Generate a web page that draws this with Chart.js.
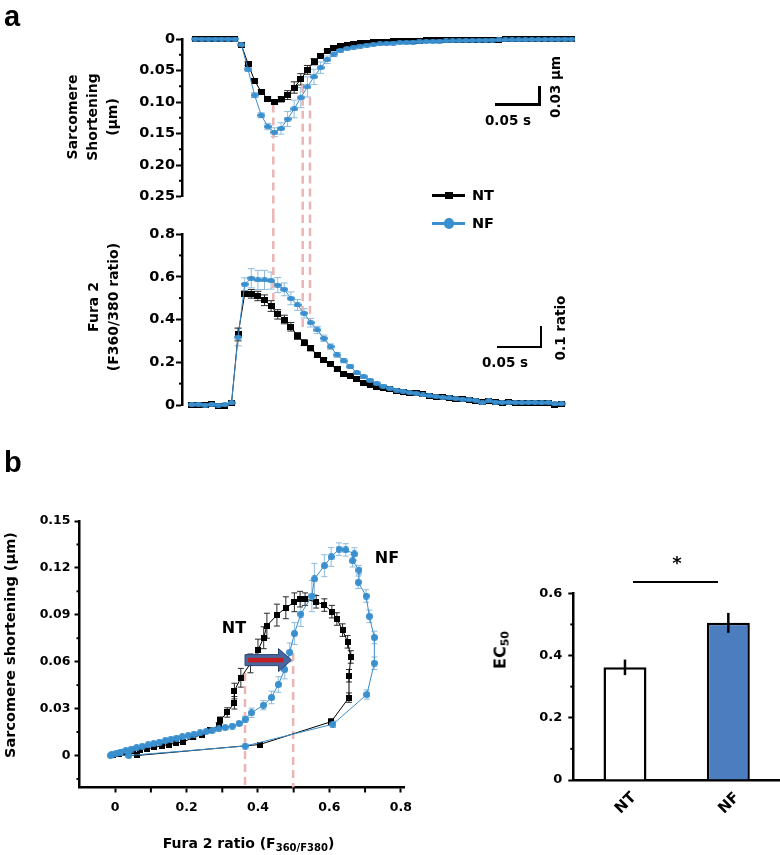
<!DOCTYPE html>
<html><head><meta charset="utf-8">
<script src="https://cdn.jsdelivr.net/npm/chart.js@4.4.1/dist/chart.umd.min.js"></script>
<style>
html,body{margin:0;padding:0;background:#fff}
body{width:780px;height:855px;position:relative;overflow:hidden;color:#000}
canvas{position:absolute}
.c{position:absolute;transform:translate(-50%,-50%);white-space:nowrap;font-family:'DejaVu Sans',sans-serif;font-weight:bold;line-height:1.2;text-align:center}
.r{position:absolute;transform:translate(-50%,-50%) rotate(-90deg);white-space:nowrap;font-family:'DejaVu Sans',sans-serif;font-weight:bold;text-align:center}
.l{position:absolute;white-space:nowrap;font-family:'Liberation Sans',Arial,sans-serif;font-weight:bold;line-height:1}
.bar{position:absolute;background:#000}
sub{font-size:10px;vertical-align:-3px;line-height:0}
</style></head><body>
<canvas id="cShort" width="600" height="215" style="left:0;top:0"></canvas>
<canvas id="cFura" width="600" height="215" style="left:0;top:215px"></canvas>
<canvas id="cLoop" width="420" height="345" style="left:0;top:490px"></canvas>
<canvas id="cBar" width="350" height="320" style="left:430px;top:520px"></canvas>

<div class="l" style="left:4px;top:2px;font-size:29px">a</div>
<div class="l" style="left:4px;top:448px;font-size:29px">b</div>

<div class="r" style="left:92px;top:117px;font-size:14px;line-height:20px">Sarcomere<br>Shortening<br>(µm)</div>
<div class="r" style="left:103px;top:307px;font-size:14px;line-height:20px">Fura 2<br>(F360/380 ratio)</div>

<!-- scale bars panel a -->
<div class="bar" style="left:495px;top:103px;width:45px;height:2.5px"></div>
<div class="bar" style="left:538px;top:86px;width:2.5px;height:19.5px"></div>
<div class="c" style="left:508px;top:120px;font-size:13.5px">0.05 s</div>
<div class="r" style="left:555px;top:87px;font-size:13.5px">0.03 µm</div>
<div class="bar" style="left:496.5px;top:345.5px;width:45px;height:2.5px"></div>
<div class="bar" style="left:539.5px;top:326px;width:2.5px;height:22px"></div>
<div class="c" style="left:505px;top:361.5px;font-size:13.5px">0.05 s</div>
<div class="r" style="left:560px;top:328px;font-size:13.5px">0.1 ratio</div>

<!-- legend -->
<div class="bar" style="left:432px;top:194px;width:33px;height:2.5px"></div>
<div class="bar" style="left:445px;top:191.5px;width:8px;height:7.5px"></div>
<div class="c" style="left:483px;top:195.5px;font-size:14.5px">NT</div>
<div class="bar" style="left:432px;top:222px;width:33px;height:2.5px;background:#3a8fcf"></div>
<div class="bar" style="left:443.5px;top:218px;width:10.5px;height:10.5px;border-radius:50%;background:#3a8fcf"></div>
<div class="c" style="left:483px;top:223.5px;font-size:14.5px">NF</div>

<!-- panel b texts -->
<div class="r" style="left:10px;top:645px;font-size:14.5px">Sarcomere shortening (µm)</div>
<div class="c" style="left:248.5px;top:843px;font-size:14px">Fura 2 ratio (F<sub>360/F380</sub>)</div>
<div class="c" style="left:234px;top:628px;font-size:16px">NT</div>
<div class="c" style="left:387px;top:557.5px;font-size:16px">NF</div>

<div class="r" style="left:500px;top:650px;font-size:16px">EC<sub style="font-size:11px">50</sub></div>
<div class="bar" style="left:633px;top:580.5px;width:85px;height:2px"></div>
<div class="c" style="left:677px;top:563px;font-size:18px">*</div>

<script>
// ================= DATA =================
// Panel a (top): sarcomere shortening (µm) vs sample index
const shortNT = [0,0,0,0,0,0,0,0.0095,0.039,0.066,0.084,0.095,0.0995,0.096,0.089,0.077,0.064,0.049,0.036,0.027,0.019,0.014,0.011,0.0092,0.0078,0.0068,0.006,0.0052,0.0047,0.0041,0.0037,0.0033,0.003,0.0027,0.0025,0.0022,0.002,0.0019,0.0017,0.0015,0.0014,0.0013,0.0011,0.001,0.0009,0.0008,0.0008,0.0007,0.0006,0.0005,0.0005,0.0004,0.0003,0.0003,0.0002,0.0001,0.0001,0];
const shortNF = [0,0,0,0,0,0,0,0.0095,0.048,0.089,0.121,0.139,0.148,0.142,0.127,0.111,0.093,0.076,0.06,0.0455,0.033,0.024,0.018,0.015,0.013,0.0113,0.0098,0.0088,0.0079,0.0071,0.0064,0.0058,0.0053,0.0048,0.0044,0.004,0.0037,0.0034,0.0031,0.0029,0.0026,0.0024,0.0022,0.002,0.0018,0.0016,0.0015,0.0013,0.0012,0.0011,0.001,0.0009,0.0007,0.0006,0.0005,0.0003,0.0002,0.0001];
const shortErrNT = [0,0,0,0,0,0,0,0,0.003,0.003,0.003,0.003,0.003,0.004,0.007,0.009,0.009,0.007,0.005,0.003,0.002,0.0015];
const shortErrNF = [0,0,0,0,0,0,0,0,0.003,0.004,0.004,0.005,0.007,0.009,0.012,0.014,0.016,0.016,0.012,0.009,0.006,0.004,0.003,0.002];
// Panel a (bottom): Fura 2 ratio vs sample index
const furaNT = [0,0.002,-0.002,0.003,-0.004,-0.006,0.008,0.33,0.52,0.52,0.51,0.49,0.463,0.424,0.40,0.366,0.323,0.292,0.265,0.234,0.21,0.19,0.167,0.145,0.136,0.12,0.104,0.094,0.086,0.078,0.073,0.067,0.062,0.058,0.055,0.05,0.044,0.039,0.036,0.031,0.028,0.027,0.023,0.019,0.016,0.019,0.012,0.011,0.012,0.011,0.009,0.009,0.011,0.009,0.009,-0.002,0.006];
const furaNF = [0.002,0.004,0,0.003,0,0.001,0.01,0.317,0.565,0.593,0.585,0.585,0.582,0.561,0.541,0.499,0.468,0.429,0.385,0.351,0.312,0.273,0.234,0.207,0.18,0.15,0.133,0.115,0.1,0.088,0.078,0.07,0.065,0.058,0.055,0.047,0.044,0.04,0.036,0.033,0.03,0.027,0.025,0.022,0.01,0.02,0.014,0.012,0.013,0.012,0.011,0.012,0.013,0.01,0.012,0.005,0.006];
const furaErrNT = [0,0,0,0,0,0,0,0.03,0.012,0.02,0.022,0.025,0.025,0.022,0.02,0.02,0.016,0.014,0.012,0.01,0.009,0.008,0.007,0.006,0.005,0.005,0.005,0.005,0.005,0.005,0.005];
const furaErrNF = [0,0,0,0,0,0,0,0.04,0.03,0.045,0.045,0.045,0.04,0.035,0.03,0.03,0.025,0.022,0.02,0.017,0.015,0.013,0.012,0.01,0.009,0.007,0.007,0.007,0.007,0.007,0.007];
// Panel b (left): shortening vs Fura ratio loops
const loopFuraNT  = [-0.005,0.062,0.405,0.605,0.655,0.655,0.66,0.651,0.637,0.621,0.607,0.586,0.563,0.532,0.518,0.502,0.478,0.453,0.425,0.416,0.4,0.379,0.352,0.334,0.334,0.314,0.294,0.29,0.266,0.243,0.219,0.191,0.17,0.15,0.13,0.11,0.09,0.07,0.05,0.03,0.012,-0.008];
const loopShortNT = [0,0,0.007,0.0216,0.037,0.051,0.063,0.0727,0.0802,0.0873,0.092,0.0962,0.0983,0.1,0.1,0.098,0.0945,0.0898,0.083,0.0753,0.0674,0.0589,0.0497,0.0412,0.0337,0.0275,0.0226,0.019,0.0162,0.0134,0.0115,0.0087,0.0079,0.007,0.0062,0.0051,0.0043,0.0034,0.0026,0.0017,0.0008,0.0001];
const loopErrNT   = [0,0,0,0.002,0.003,0.004,0.004,0.004,0.004,0.004,0.004,0.004,0.004,0.004,0.005,0.006,0.007,0.007,0.008,0.007,0.007,0.006,0.006,0.005,0.004,0.003,0.002,0.002,0.001,0.001,0.001];
const loopFuraNF  = [-0.013,0.038,0.364,0.61,0.705,0.726,0.726,0.712,0.703,0.681,0.683,0.665,0.67,0.646,0.627,0.605,0.586,0.558,0.551,0.52,0.502,0.489,0.475,0.457,0.438,0.415,0.382,0.364,0.347,0.328,0.308,0.29,0.272,0.255,0.238,0.221,0.205,0.188,0.172,0.156,0.14,0.124,0.108,0.092,0.076,0.06,0.045,0.03,0.015,0.002,-0.01];
const loopShortNF = [0,0,0.006,0.02,0.039,0.059,0.0755,0.089,0.102,0.1108,0.1186,0.1246,0.1289,0.1315,0.132,0.127,0.1214,0.1129,0.102,0.0905,0.078,0.066,0.055,0.0454,0.0371,0.0322,0.0273,0.0232,0.0205,0.0188,0.0179,0.017,0.0162,0.0154,0.0146,0.0137,0.0128,0.012,0.0111,0.0103,0.0094,0.0085,0.0076,0.0068,0.0059,0.005,0.0041,0.0032,0.0022,0.0012,0.0003];
const loopErrNF   = [0,0,0,0.002,0.003,0.004,0.004,0.004,0.004,0.004,0.003,0.004,0.004,0.004,0.004,0.006,0.007,0.01,0.01,0.008,0.007,0.006,0.006,0.005,0.004,0.003,0.003,0.002,0.001];
// Panel b (right): EC50
const ecGroups = ['NT','NF'];
const ecValues = [0.362,0.505];
const ecErrors = [0.025,0.032];
// Tick values
const shortTicks = [0,0.05,0.10,0.15,0.20,0.25];
const shortMinor = [0.025,0.075,0.125,0.175,0.225];
const furaTicks = [0,0.2,0.4,0.6,0.8];
const furaMinor = [0.1,0.3,0.5,0.7];
const loopXTicks = [0,0.2,0.4,0.6,0.8];
const loopXMinor = [0.1,0.3,0.5,0.7];
const loopYTicks = [0,0.03,0.06,0.09,0.12,0.15];
const loopYMinor = [-0.015,0.015,0.045,0.075,0.105,0.135];
const ecTicks = [0,0.2,0.4,0.6];
const ecMinor = [0.1,0.3,0.5];
// Guide lines (sample index) and arrow (Fura ratio)
const guideIdx = [12.33,16.79,17.89];
const guideShortStart = [0.104,0.0725,0.093];
const guideFuraEnd = [0.491,0.342,0.388];
const loopGuideX = [0.3637,0.4986];
const loopGuideTop = [0.0527,0.0655];
const arrowFrom = 0.3637, arrowTo = 0.494, arrowAt = 0.061;

// ================= STYLE =================
const BLUE = '#3a8fcf', BLUE_LINE = '#3d8cc8', BLUE_ERR = '#8dbbe0', NT_ERR = '#2a2a2a', PINK = '#ebb5b5';
const SHIFT = 0.5;
Chart.defaults.font.family = "'DejaVu Sans', sans-serif";
Chart.defaults.font.weight = 'bold';
Chart.defaults.color = '#000';

function mkRect(w,h,color){const c=document.createElement('canvas');c.width=w;c.height=h;const x=c.getContext('2d');x.fillStyle=color;x.fillRect(0,0,w,h);return c;}
function mkEllipse(w,h,color){const c=document.createElement('canvas');c.width=w;c.height=h;const x=c.getContext('2d');x.fillStyle=color;x.beginPath();x.ellipse(w/2,h/2,w/2,h/2,0,0,Math.PI*2);x.fill();return c;}

const errorBars = {
  id:'errorBars',
  draw(chart){
    const ctx=chart.ctx;
    chart.data.datasets.forEach((ds,di)=>{
      if(!ds.errors) return;
      const meta=chart.getDatasetMeta(di);
      const ys=chart.scales[meta.yAxisID];
      ctx.save();
      ctx.strokeStyle=ds.errorColor; ctx.lineWidth=ds.errorWidth||1;
      meta.data.forEach((el,i)=>{
        const e=ds.errors[i]; if(!e) return;
        const v=meta.controller.getParsed(i).y;
        const y1=ys.getPixelForValue(v+e), y2=ys.getPixelForValue(v-e), x=el.x, c=ds.errorCap||0;
        ctx.beginPath(); ctx.moveTo(x,y1); ctx.lineTo(x,y2);
        if(c){ctx.moveTo(x-c,y1);ctx.lineTo(x+c,y1);ctx.moveTo(x-c,y2);ctx.lineTo(x+c,y2);}
        ctx.stroke();
      });
      ctx.restore();
    });
  },
  beforeDatasetsDraw(chart,a,o){ if(!o.after) this.draw(chart); },
  afterDatasetsDraw(chart,a,o){ if(o.after) this.draw(chart); }
};
const minorTicks = {
  id:'minorTicks',
  afterDraw(chart,a,o){
    if(!o.axes) return;
    const ctx=chart.ctx;
    o.axes.forEach(ax=>{
      const s=chart.scales[ax.id];
      ctx.save(); ctx.strokeStyle='#000'; ctx.lineWidth=ax.width||2;
      ax.values.forEach(v=>{
        const p=s.getPixelForValue(v);
        ctx.beginPath();
        if(s.isHorizontal()){ctx.moveTo(p,chart.chartArea.bottom);ctx.lineTo(p,chart.chartArea.bottom+ax.len);}
        else{ctx.moveTo(chart.chartArea.left,p);ctx.lineTo(chart.chartArea.left-ax.len,p);}
        ctx.stroke();
      });
      ctx.restore();
    });
  }
};
const guideLines = {
  id:'guideLines',
  beforeDatasetsDraw(chart,a,o){
    if(!o.xs) return;
    const ctx=chart.ctx, xs=chart.scales.x, ys=chart.scales.y;
    ctx.save(); ctx.strokeStyle=PINK; ctx.lineWidth=2.5; ctx.setLineDash([8,5]);
    o.xs.forEach((xv,i)=>{
      const px=xs.getPixelForValue(xv);
      const y1=o.from?ys.getPixelForValue(o.from[i]):0;
      const y2=o.to?ys.getPixelForValue(o.to[i]):(o.toAxis?chart.chartArea.bottom:chart.height);
      ctx.beginPath(); ctx.moveTo(px,y1); ctx.lineTo(px,y2); ctx.stroke();
    });
    ctx.restore();
  }
};
const arrowPlugin = {
  id:'arrowPlugin',
  afterDatasetsDraw(chart,a,o){
    if(o.x0===undefined) return;
    const ctx=chart.ctx, xs=chart.scales.x, ys=chart.scales.y;
    const x0=xs.getPixelForValue(o.x0), x1=xs.getPixelForValue(o.x1), y=ys.getPixelForValue(o.y);
    const hl=13, bh=5.5, hh=11.5;
    ctx.save();
    ctx.beginPath();
    ctx.moveTo(x0,y-bh); ctx.lineTo(x1-hl,y-bh); ctx.lineTo(x1-hl,y-hh); ctx.lineTo(x1,y);
    ctx.lineTo(x1-hl,y+hh); ctx.lineTo(x1-hl,y+bh); ctx.lineTo(x0,y+bh); ctx.closePath();
    ctx.fillStyle='#47689f'; ctx.fill(); ctx.strokeStyle='#2d4674'; ctx.lineWidth=1; ctx.stroke();
    ctx.fillStyle='#c21f24'; ctx.fillRect(x0+3,y-2.3,(x1-8)-(x0+3),4.6);
    ctx.restore();
  }
};
Chart.register(errorBars, minorTicks, guideLines, arrowPlugin);

const X_MIN=-1.5, X_MAX=58.8;
function yAxis(o){
  return {
    type:'linear', min:o.min, max:o.max, reverse:!!o.reverse,
    afterFit:s=>{s.width=o.width;},
    afterBuildTicks:s=>{s.ticks=o.ticks.map(v=>({value:v}));},
    ticks:{callback:o.fmt, font:{size:o.size,weight:'bold'}, padding:o.pad, color:'#000', autoSkip:false},
    grid:{drawOnChartArea:false, tickLength:o.tl, tickWidth:2, tickColor:'#000'},
    border:{display:true,color:'#000',width:2.5}
  };
}
const base = {responsive:false, animation:false, devicePixelRatio:1, events:[]};

// ---- Panel a top ----
const nfEll = mkEllipse(8,5,BLUE), ntRect = mkRect(7,6,'#000');
new Chart(document.getElementById('cShort'),{
  type:'scatter',
  data:{datasets:[
    {label:'NF',data:shortNF.map((v,k)=>({x:k+SHIFT,y:v})),errors:shortErrNF,errorColor:BLUE_ERR,errorCap:3.5,
     showLine:true,borderColor:BLUE_LINE,borderWidth:1,pointStyle:nfEll,pointRadius:3,order:0,clip:false},
    {label:'NT',data:shortNT.map((v,k)=>({x:k+SHIFT,y:v})),errors:shortErrNT,errorColor:NT_ERR,errorCap:3.5,
     showLine:true,borderColor:'#000',borderWidth:1,pointStyle:ntRect,pointRadius:3,order:1,clip:false}
  ]},
  options:{...base,
    layout:{padding:{top:39,bottom:18.5,left:0,right:20}},
    plugins:{legend:{display:false},tooltip:{enabled:false},
      guideLines:{xs:guideIdx,from:guideShortStart},
      minorTicks:{axes:[{id:'y',values:shortMinor,len:3}]}},
    scales:{
      x:{type:'linear',display:false,min:X_MIN,max:X_MAX},
      y:yAxis({min:0,max:0.25,reverse:true,width:182,ticks:shortTicks,fmt:v=>v===0?'0':v.toFixed(2),size:14.5,pad:1,tl:6})
    }
  }
});

// ---- Panel a bottom ----
new Chart(document.getElementById('cFura'),{
  type:'scatter',
  data:{datasets:[
    {label:'NF',data:furaNF.map((v,i)=>({x:i,y:v})),errors:furaErrNF,errorColor:BLUE_ERR,errorCap:3.5,
     showLine:true,borderColor:BLUE_LINE,borderWidth:1,pointStyle:nfEll,pointRadius:3,order:0,clip:false},
    {label:'NT',data:furaNT.map((v,i)=>({x:i,y:v})),errors:furaErrNT,errorColor:NT_ERR,errorCap:3.5,
     showLine:true,borderColor:'#000',borderWidth:1,pointStyle:ntRect,pointRadius:3,order:1,clip:false}
  ]},
  options:{...base,
    layout:{padding:{top:19,bottom:25,left:0,right:20}},
    plugins:{legend:{display:false},tooltip:{enabled:false},
      guideLines:{xs:guideIdx,to:guideFuraEnd},
      minorTicks:{axes:[{id:'y',values:furaMinor,len:3}]}},
    scales:{
      x:{type:'linear',display:false,min:X_MIN,max:X_MAX},
      y:yAxis({min:0,max:0.8,width:182,ticks:furaTicks,fmt:v=>v===0?'0':v.toFixed(1),size:14.5,pad:1,tl:6})
    }
  }
});

// ---- Panel b loop ----
const nfCirc = mkEllipse(7,7,BLUE), ntSq = mkRect(6,6,'#000');
new Chart(document.getElementById('cLoop'),{
  type:'scatter',
  data:{datasets:[
    {label:'NF',data:loopFuraNF.map((x,i)=>({x:x,y:loopShortNF[i]})),errors:loopErrNF,errorColor:BLUE_ERR,errorCap:3,
     showLine:true,borderColor:BLUE_LINE,borderWidth:1,pointStyle:nfCirc,pointRadius:3,order:0,clip:false},
    {label:'NT',data:loopFuraNT.map((x,i)=>({x:x,y:loopShortNT[i]})),errors:loopErrNT,errorColor:NT_ERR,errorCap:3,
     showLine:true,borderColor:'#000',borderWidth:1,pointStyle:ntSq,pointRadius:3,order:1,clip:false}
  ]},
  options:{...base,
    layout:{padding:{top:31,bottom:17.5,left:0,right:15.5}},
    plugins:{legend:{display:false},tooltip:{enabled:false},
      guideLines:{xs:loopGuideX,from:loopGuideTop,toAxis:true},
      arrowPlugin:{x0:arrowFrom,x1:arrowTo,y:arrowAt},
      minorTicks:{axes:[{id:'y',values:loopYMinor,len:3},{id:'x',values:loopXMinor,len:5}]}},
    scales:{
      x:{type:'linear',min:-0.1,max:0.81,
        afterFit:s=>{s.height=30;},
        afterBuildTicks:s=>{s.ticks=loopXTicks.map(v=>({value:v}));},
        ticks:{callback:v=>v===0?'0':v.toFixed(1),font:{size:12.5,weight:'bold'},padding:8,color:'#000',autoSkip:false,maxRotation:0},
        grid:{drawOnChartArea:false,tickLength:5,tickWidth:2,tickColor:'#000'},
        border:{display:true,color:'#000',width:2.5}},
      y:yAxis({min:-0.0205,max:0.15,width:79.5,ticks:loopYTicks,fmt:v=>v===0?'0':v.toFixed(2),size:12.5,pad:4,tl:5})
    }
  }
});

// ---- Panel b bars ----
new Chart(document.getElementById('cBar'),{
  type:'bar',
  data:{labels:ecGroups,datasets:[{data:ecValues,errors:ecErrors,errorColor:'#000',errorWidth:2.5,
    backgroundColor:['#ffffff','#4b7dbf'],borderColor:'#000',borderWidth:2.5,borderSkipped:'bottom',
    categoryPercentage:1,barPercentage:0.416}]},
  options:{...base,
    layout:{padding:{top:73.3,bottom:15,left:0,right:0}},
    plugins:{legend:{display:false},tooltip:{enabled:false},errorBars:{after:true},
      minorTicks:{axes:[{id:'y',values:ecMinor,len:3}]}},
    scales:{
      x:{type:'category',afterFit:s=>{s.height=45;},
        ticks:{font:{size:15,weight:'bold'},color:'#000',maxRotation:45,minRotation:45,padding:9,labelOffset:9},
        grid:{display:true,drawOnChartArea:false,drawTicks:false},
        border:{display:true,color:'#000',width:2.5}},
      y:yAxis({min:0,max:0.6,width:143.3,ticks:ecTicks,fmt:v=>v===0?'0':v.toFixed(1),size:13,pad:6,tl:5})
    }
  }
});
</script>
</body></html>
